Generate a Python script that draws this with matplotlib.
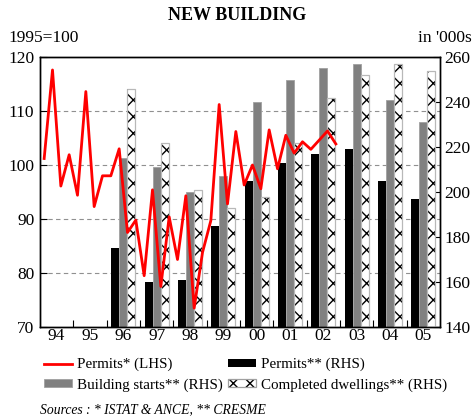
import matplotlib
matplotlib.use("Agg")
import matplotlib.pyplot as plt
from matplotlib.patches import Patch
import numpy as np

plt.rcParams['font.family'] = ['Liberation Serif', 'DejaVu Serif']
plt.rcParams['hatch.linewidth'] = 1.0

years = ['94', '95', '96', '97', '98', '99', '00', '01', '02', '03', '04', '05']

# Quarterly permits index (LHS), 1994Q1 .. 2002Q4
permits_lhs = [101.2, 117.6, 96.1, 101.9, 94.4, 113.6, 92.3, 98.0,
               98.0, 103.0, 87.5, 89.8, 79.5, 95.4, 77.5, 90.4,
               82.5, 94.3, 73.5, 83.8, 89.7, 111.2, 92.8, 106.2,
               96.3, 100.0, 95.6, 106.5, 99.3, 105.5, 102.2, 104.3,
               102.9, 104.6, 106.3, 103.9]

# Annual series (RHS, thousands), 1996 .. 2005
bar_years = ['96', '97', '98', '99', '00', '01', '02', '03', '04', '05']
permits_rhs = [175, 160, 161, 185, 205, 213, 217, 219, 205, 197]
starts_rhs = [215, 211, 200, 207, 240, 250, 255, 257, 241, 231]
completed_rhs = [246, 222, 201, 193, 198, 222, 242, 252, 257, 254]

lhs_ticks = [70, 80, 90, 100, 110, 120]
rhs_ticks = [140, 160, 180, 200, 220, 240, 260]

W, H = 475, 419
fig = plt.figure(figsize=(W / 100, H / 100), dpi=100)
ax = fig.add_axes([40 / W, 1 - 327 / H, 400 / W, 270 / H])
ax2 = ax.twinx()

lhs_lim = (70, 120)
rhs_lim = (140, 260)

xb = np.array([years.index(y) for y in bar_years], dtype=float)
bw = 0.235
b1 = ax.bar(xb - 0.24, permits_rhs, bw, color='black', edgecolor='black', linewidth=0, zorder=2)
b2 = ax.bar(xb, starts_rhs, bw, color='#808080', edgecolor='#a0a0a0', linewidth=0.6, zorder=2)
ax.bar(xb + 0.24, completed_rhs, bw, color='white', edgecolor='black', hatch='xx', linewidth=0, zorder=2)
ax.bar(xb + 0.24, completed_rhs, bw, fill=False, edgecolor='#b8b8b8', linewidth=0.9, zorder=3)

# grid lines at the LHS ticks, drawn behind the bars
for v in lhs_ticks[1:-1]:
    r = rhs_lim[0] + (v - lhs_lim[0]) * (rhs_lim[1] - rhs_lim[0]) / (lhs_lim[1] - lhs_lim[0])
    ax.axhline(r, color='#909090', linestyle=(0, (4, 3)), linewidth=0.8, zorder=1)

ax.set_ylim(*rhs_lim)
ax.set_xlim(-0.5, 11.5)
ax.yaxis.tick_right()
ax.set_yticks(rhs_ticks)
ax.set_xticks(np.arange(0.5, 11.5, 1.0))
ax.set_xticks(np.arange(12), minor=True)
ax.set_xticklabels([])
ax.set_xticklabels(years, minor=True)
ax.tick_params(axis='x', which='major', direction='in', length=5, width=0.8, labelbottom=False)
ax.tick_params(axis='x', which='minor', length=0, labelsize=12.5, pad=1)
ax.tick_params(axis='y', direction='in', length=5, width=0.8, labelsize=12.5, pad=3)

xq = np.arange(len(permits_lhs)) / 4.0 - 0.5 + 0.125
ln, = ax2.plot(xq, permits_lhs, color='#ff0000', linewidth=2.0, zorder=5)
ax2.set_ylim(*lhs_lim)
ax2.yaxis.tick_left()
ax2.set_yticks(lhs_ticks)
ax2.tick_params(axis='y', direction='in', length=5, width=0.8, labelsize=12.5, pad=4)

for a in (ax, ax2):
    for s in a.spines.values():
        s.set_linewidth(1.0)
        s.set_color('black')

fig.text(0.5, 1 - 15 / H, 'NEW BUILDING', ha='center', va='center', fontsize=13, fontweight='bold')
fig.text(8 / W, 1 - 38 / H, '1995=100', ha='left', va='center', fontsize=12.5)
fig.text(472 / W, 1 - 38 / H, "in '000s", ha='right', va='center', fontsize=12.5)

h_comp = (Patch(facecolor='white', edgecolor='black', hatch='xx', linewidth=0),
          Patch(fill=False, edgecolor='#a0a0a0', linewidth=0.9))
leg = fig.legend([ln, b2, b1, h_comp],
                 ['Permits* (LHS)', 'Building starts** (RHS)', 'Permits** (RHS)', 'Completed dwellings** (RHS)'],
                 ncol=2, loc='upper left', bbox_to_anchor=(44 / W, 1 - 358 / H),
                 frameon=False, fontsize=10.8, handlelength=1.85, handleheight=0.5,
                 handletextpad=0.35, columnspacing=0.35, labelspacing=0.45,
                 borderpad=0, borderaxespad=0)

fig.text(40 / W, 1 - 410 / H, 'Sources : * ISTAT & ANCE, ** CRESME', ha='left', va='center',
         fontsize=9.8, fontstyle='italic')

fig.savefig('out.png', dpi=100)
